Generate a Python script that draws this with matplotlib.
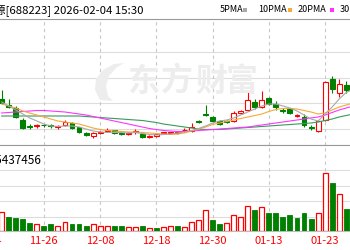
import matplotlib
matplotlib.use("Agg")
import matplotlib.pyplot as plt
from matplotlib.patches import Rectangle, Polygon

# daily data, 2025-11-18 .. 2026-01-29 (the right part of the chart is cut off)
dates = ['11-18', '11-19', '11-20', '11-21', '11-24', '11-25', '11-26', '11-27', '11-28',
         '12-01', '12-02', '12-03', '12-04', '12-05', '12-08', '12-09', '12-10', '12-11',
         '12-12', '12-15', '12-16', '12-17', '12-18', '12-19', '12-22', '12-23', '12-24',
         '12-25', '12-26', '12-29', '12-30', '12-31', '01-05', '01-06', '01-07', '01-08',
         '01-09', '01-12', '01-13', '01-14', '01-15', '01-16', '01-19', '01-20', '01-21',
         '01-22', '01-23', '01-26', '01-27', '01-28', '01-29']
opens = [10.07, 9.50, 9.25, 8.00, 7.38, 7.40, 7.54, 7.47, 7.30, 7.50, 7.73, 7.27, 6.70,
         6.40, 6.70, 6.95, 7.00, 6.70, 6.57, 6.80, 6.57, 6.27, 6.43, 6.70, 6.70, 6.67,
         6.97, 6.95, 7.87, 8.57, 8.27, 7.95, 7.88, 7.90, 8.75, 9.02, 9.80, 9.35, 10.20,
         9.60, 8.97, 9.07, 8.40, 8.35, 7.28, 6.95, 8.00, 12.15, 10.75, 11.50, 11.05]
highs = [11.00, 10.10, 9.40, 8.20, 7.60, 7.65, 7.65, 7.60, 7.50, 8.00, 7.80, 7.35, 6.80,
         6.85, 6.95, 7.25, 7.05, 6.80, 6.85, 7.15, 6.65, 6.50, 6.65, 6.85, 6.85, 6.95,
         7.20, 7.73, 8.00, 9.50, 8.40, 8.05, 8.00, 8.90, 9.00, 10.95, 10.10, 10.95, 10.35,
         9.90, 9.25, 9.15, 8.65, 8.65, 7.50, 8.05, 11.90, 12.45, 12.15, 11.90, 11.50]
lows = [9.60, 9.20, 8.20, 7.10, 7.10, 7.20, 7.30, 7.25, 7.15, 7.40, 7.15, 6.75, 6.40,
        6.20, 6.60, 6.80, 6.65, 6.50, 6.50, 6.65, 6.20, 6.20, 6.35, 6.60, 6.60, 6.60,
        6.85, 6.83, 7.70, 8.40, 7.80, 7.50, 7.70, 7.80, 8.65, 8.95, 9.15, 9.25, 9.50,
        9.00, 8.70, 8.60, 8.30, 7.35, 7.05, 6.85, 7.90, 10.75, 10.30, 10.75, 10.80]
closes = [9.73, 9.30, 8.30, 7.23, 7.30, 7.47, 7.46, 7.39, 7.37, 7.83, 7.23, 6.83, 6.50,
          6.67, 6.77, 7.03, 6.73, 6.63, 6.73, 6.95, 6.27, 6.40, 6.57, 6.77, 6.77, 6.83,
          7.05, 7.35, 7.80, 8.50, 7.90, 7.57, 7.80, 8.75, 8.95, 10.03, 9.30, 10.05, 9.65,
          9.30, 8.90, 8.70, 8.55, 7.50, 7.20, 7.95, 11.83, 11.15, 11.65, 11.00, 11.25]
volumes = [193, 137, 127, 120, 83, 70, 53, 67, 53, 87, 67, 67, 50, 67, 50, 50, 50, 50,
           45, 45, 50, 33, 27, 38, 50, 47, 45, 87, 110, 210, 110, 74, 83, 164, 140, 253,
           210, 243, 177, 177, 143, 160, 127, 183, 117, 183, 577, 477, 367, 220, 310]
# 1 = red volume bar, 0 = green
vol_up = [1, 0, 0, 0, 0, 1, 0, 0, 1, 1, 0, 0, 0, 1, 1, 1, 0, 0, 1, 1, 0, 1, 0, 1, 1, 0,
          1, 1, 1, 1, 0, 0, 1, 1, 1, 1, 0, 1, 0, 0, 0, 0, 0, 0, 0, 1, 1, 0, 1, 0, 1]
ma5 = [9.80, 9.40, 9.00, 8.60, 8.20, 7.90, 7.60, 7.40, 7.35, 7.40, 7.40, 7.30, 7.10, 6.90,
       6.80, 6.75, 6.75, 6.75, 6.70, 6.75, 6.65, 6.55, 6.50, 6.55, 6.60, 6.70, 6.80, 6.95,
       7.15, 7.40, 7.70, 7.90, 8.00, 8.20, 8.50, 8.80, 9.10, 9.40, 9.60, 9.60, 9.40, 9.20,
       8.90, 8.50, 8.10, 7.90, 8.60, 9.30, 10.10, 10.75, 11.10]
ma10 = [9.60, 9.40, 9.20, 8.90, 8.70, 8.50, 8.30, 8.10, 7.90, 7.80, 7.70, 7.60, 7.40, 7.20,
        7.05, 6.95, 6.90, 6.85, 6.80, 6.80, 6.75, 6.70, 6.65, 6.60, 6.55, 6.60, 6.70, 6.90,
        7.10, 7.30, 7.55, 7.70, 7.85, 8.00, 8.15, 8.30, 8.45, 8.60, 8.85, 9.05, 9.15, 9.15,
        9.10, 8.95, 8.80, 8.60, 8.70, 9.00, 9.30, 9.50, 9.70]
ma20 = [8.70, 8.75, 8.80, 8.85, 8.90, 8.95, 8.95, 8.90, 8.85, 8.80, 8.70, 8.60, 8.50, 8.35,
        8.20, 8.05, 7.90, 7.75, 7.60, 7.45, 7.30, 7.15, 7.05, 6.95, 6.90, 6.85, 6.85, 6.90,
        6.95, 7.00, 7.05, 7.10, 7.15, 7.20, 7.25, 7.30, 7.40, 7.50, 7.60, 7.70, 7.80, 7.90,
        8.00, 8.10, 8.20, 8.30, 8.50, 8.75, 9.00, 9.20, 9.40]
ma30 = [8.40, 8.40, 8.40, 8.40, 8.40, 8.40, 8.40, 8.40, 8.40, 8.40, 8.40, 8.40, 8.35, 8.30,
        8.25, 8.20, 8.15, 8.10, 8.05, 8.00, 7.95, 7.85, 7.75, 7.60, 7.50, 7.40, 7.30, 7.20,
        7.10, 7.05, 7.05, 7.05, 7.10, 7.15, 7.20, 7.25, 7.30, 7.35, 7.40, 7.45, 7.50, 7.55,
        7.60, 7.65, 7.70, 7.80, 7.95, 8.10, 8.30, 8.45, 8.60]

tick_labels = ['11-14', '11-26', '12-08', '12-18', '12-30', '01-13', '01-23']
tick_pos = [-2, 6, 14, 22, 30, 38, 46]
price_grid = [14.8, 12.23, 9.66, 7.09]
vol_grid = [145, 300, 455, 610]
vol_label = '5437456'

RED = '#ff0000'
GREEN = '#008000'
GRID = '#dddddd'
FONT = ['Liberation Sans Narrow', 'Noto Sans CJK SC', 'DejaVu Sans']
plt.rcParams['font.family'] = FONT

fig = plt.figure(figsize=(3.5, 2.5), dpi=100)
ax = fig.add_axes([0, 0.42, 1, 0.504])
axv = fig.add_axes([0, 0.076, 1, 0.344], sharex=ax)

# watermark
for ch, xp in zip('东方财富', [143, 177, 211, 242]):
    fig.text(xp / 350, 1 - 82 / 250, ch, fontsize=23, fontweight='bold', color='#ededed',
             ha='center', va='center', family=['Noto Sans CJK SC'], zorder=0)
logo = [(100, 100), (95, 90), (96, 79), (103, 70), (114, 64), (124, 63), (116, 68),
        (109, 76), (106, 86), (108, 96), (113, 101)]
fig.patches.append(Polygon([(px / 350, 1 - py / 250) for px, py in logo], closed=True,
                           transform=fig.transFigure, facecolor='#ededed', edgecolor='none',
                           zorder=0))

w = 0.7
for i in range(len(dates)):
    o, h, l, c = opens[i], highs[i], lows[i], closes[i]
    col = RED if c >= o else GREEN
    ax.vlines(i, l, h, color=col, lw=0.8, zorder=3)
    body = max(abs(c - o), 0.06)
    ax.add_patch(Rectangle((i - w / 2, min(o, c)), w, body,
                           facecolor='white' if c >= o else GREEN,
                           edgecolor=col, lw=0.8, zorder=4))

x = list(range(len(dates)))
ax.plot(x, ma30, color='#3a9a5c', lw=0.8, zorder=5)
ax.plot(x, ma20, color='#ff33ff', lw=0.8, zorder=5)
ax.plot(x, ma10, color='#f7a93a', lw=0.8, zorder=5)
ax.plot(x, ma5, color='#a8a8a8', lw=0.8, zorder=5)

for i in range(len(dates)):
    if vol_up[i]:
        axv.add_patch(Rectangle((i - w / 2, 0), w, volumes[i], facecolor='white',
                                edgecolor=RED, lw=0.9, zorder=3))
    else:
        axv.add_patch(Rectangle((i - w / 2, 0), w, volumes[i], facecolor=GREEN,
                                edgecolor=GREEN, lw=0.6, zorder=3))

ax.set_xlim(-0.24, 49.54)
ax.set_ylim(5.5, 18.1)
axv.set_ylim(0, 860)

for a, grid in [(ax, price_grid), (axv, vol_grid)]:
    for g in grid:
        a.axhline(g, color=GRID, lw=0.8, zorder=1)
    for t in tick_pos:
        a.axvline(t, color='#c8c8c8', lw=0.8, ls=(0, (3, 3)), zorder=1)
    a.set_xticks([])
    a.set_yticks([])
    for s in ['left', 'right']:
        a.spines[s].set_visible(False)
    a.spines['top'].set_color('#999999')
    a.spines['bottom'].set_color('#bbbbbb')
    a.spines['top'].set_linewidth(0.8)
    a.spines['bottom'].set_linewidth(0.8)

# date labels
for t, lab in zip(tick_pos, tick_labels):
    axv.text(t, -0.12, lab, transform=axv.get_xaxis_transform(), ha='center', va='center',
             color=RED, fontsize=8)

axv.text(42 / 350, 1 - 15 / 86, 'VOL:' + vol_label, transform=axv.transAxes, ha='right',
         va='center', fontsize=8.5, color='black')

# header
fig.text(143 / 350, 1 - 10 / 250, '晶科能源[688223] 2026-02-04 15:30', ha='right',
         va='center', fontsize=8.2, color='black')
legend = [('5PMA', '#a8a8a8', 220, 243), ('10PMA', '#f7a93a', 258, 288),
          ('20PMA', '#ff33ff', 298, 330), ('30PMA', '#3a9a5c', 340, 372)]
for name, col, xp, mx in legend:
    fig.text(xp / 350, 1 - 10 / 250, name, ha='left', va='center', fontsize=6.5,
             color='black')
    fig.patches.append(Rectangle((mx / 350, 1 - 11.5 / 250), 4 / 350, 3 / 250,
                                 transform=fig.transFigure, facecolor=col, edgecolor='none'))

fig.savefig('out.png', dpi=100)
